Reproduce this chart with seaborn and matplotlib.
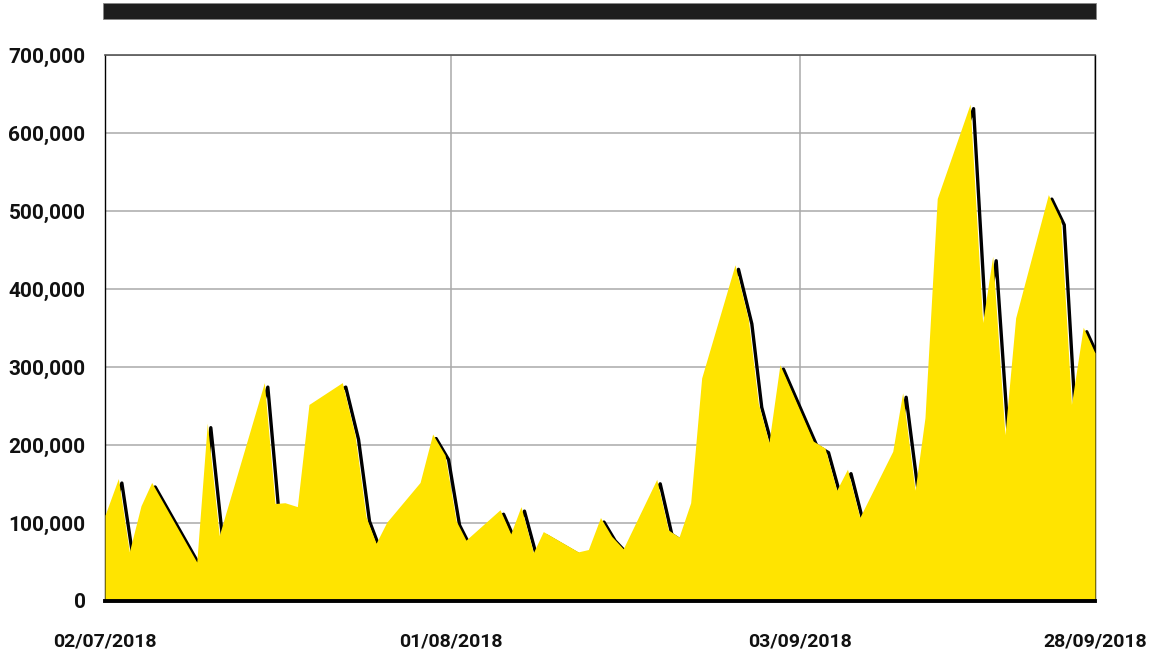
import matplotlib
matplotlib.use("Agg")
import matplotlib.pyplot as plt
import matplotlib.transforms as mtransforms
from matplotlib.patches import Rectangle
import seaborn as sns
import pandas as pd

# trading-day position (0 = 02/07/2018) and value
day = [0.0, 0.85, 1.55, 2.29, 2.97, 5.84, 6.51, 7.27, 10.14, 10.82, 11.45, 12.24,
       12.98, 15.10, 15.91, 16.61, 17.25, 17.93, 20.05, 20.85, 21.64, 22.34, 22.97,
       25.14, 25.82, 26.47, 27.26, 27.89, 30.12, 30.76, 31.53, 32.24, 32.98, 35.11,
       35.85, 36.53, 37.27, 37.97, 40.09, 40.94, 41.57, 42.25, 42.95, 45.07, 45.82,
       46.56, 47.25, 48.03, 50.13, 50.76, 51.55, 52.18, 52.96, 55.05, 55.85, 56.49,
       57.27, 57.95, 60.03, 60.82, 61.50, 62.25, 63.0]
volume = [110000, 157000, 63000, 122000, 152000, 50000, 228000, 84000, 280000, 125000,
          126000, 121000, 252000, 280000, 213000, 108000, 74000, 101000, 152000, 214000,
          187000, 103000, 78000, 117000, 86000, 121000, 62000, 89000, 63000, 66000,
          107000, 83000, 67000, 156000, 91000, 82000, 126000, 286000, 431000, 361000,
          254000, 203000, 303000, 205000, 196000, 142000, 169000, 107000, 192000, 267000,
          142000, 235000, 516000, 637000, 357000, 442000, 213000, 363000, 521000, 488000,
          252000, 351000, 318000]

tick_pos = [0, 22.0, 44.2, 63]
tick_labels = ["02/07/2018", "01/08/2018", "03/09/2018", "28/09/2018"]
y_ticks = [0, 100000, 200000, 300000, 400000, 500000, 600000, 700000]

df = pd.DataFrame({"day": day, "volume": volume})

sns.set_style("white")
plt.rcParams["font.family"] = ["Roboto", "DejaVu Sans"]

fig = plt.figure(figsize=(11.56, 6.52), dpi=100)
ax = fig.add_axes([105 / 1156, 1 - 601 / 652, 990 / 1156, 546 / 652])

# black drop shadow, offset right and down
shadow = mtransforms.ScaledTranslation(3.5 / 100, -4.5 / 100, fig.dpi_scale_trans)
sns.lineplot(data=df, x="day", y="volume", ax=ax, color="black", linewidth=2.4,
             sort=False, estimator=None, transform=ax.transData + shadow, zorder=2)
ax.fill_between(df["day"], df["volume"], color="#FFE400", linewidth=0, zorder=3)

ax.set_xlim(0, 63)
ax.set_ylim(0, 700000)
ax.set_xticks(tick_pos)
ax.set_xticklabels(tick_labels)
ax.set_yticks(y_ticks)
ax.set_yticklabels([f"{v:,}" for v in y_ticks])
ax.set_xlabel("")
ax.set_ylabel("")

ax.grid(True, color="#aaaaaa", linewidth=1.1)
ax.set_axisbelow(True)
ax.tick_params(axis="both", length=0)
ax.tick_params(axis="x", pad=23, labelsize=14)
ax.tick_params(axis="y", pad=14, labelsize=15)
for lab in ax.get_xticklabels() + ax.get_yticklabels():
    lab.set_fontweight("bold")
    lab.set_color("#111111")

for side in ["left", "right"]:
    ax.spines[side].set_color("black")
    ax.spines[side].set_linewidth(1.0)
ax.spines["top"].set_color("#555555")
ax.spines["top"].set_linewidth(1.2)
ax.spines["bottom"].set_color("black")
ax.spines["bottom"].set_linewidth(2.8)
ax.spines["bottom"].set_zorder(5)

# dark header bar above the plot
fig.add_artist(Rectangle((103 / 1156, 1 - 19 / 652), 993 / 1156, 16 / 652,
                         transform=fig.transFigure, facecolor="#1e1e1e",
                         edgecolor="#888888", linewidth=0.6))

fig.savefig("out.png", dpi=100)
